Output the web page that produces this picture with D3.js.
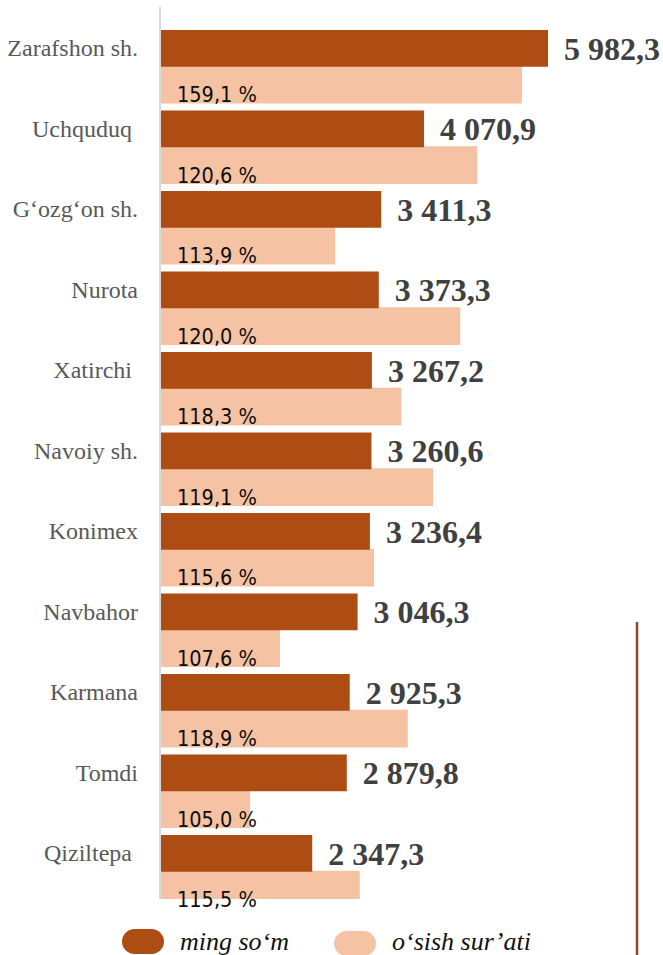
<!DOCTYPE html>
<html>
<head>
<meta charset="UTF-8">
<title>Tumanlar kesimida</title>
<script src="https://d3js.org/d3.v7.min.js"></script>
<style>
  body { margin: 0; background: #ffffff; }
  svg { display: block; }
</style>
</head>
<body>
<div id="chart"></div>
<script>
  // districts, top to bottom
  const categories = ["Zarafshon sh.", "Uchquduq ", "G‘ozg‘on sh.", "Nurota", "Xatirchi ", "Navoiy sh.",
                      "Konimex", "Navbahor", "Karmana", "Tomdi", "Qiziltepa "];
  // ming so'm
  const values = [5982.3, 4070.9, 3411.3, 3373.3, 3267.2, 3260.6, 3236.4, 3046.3, 2925.3, 2879.8, 2347.3];
  // o'sish sur'ati, label text (%)
  const growth = [159.1, 120.6, 113.9, 120.0, 118.3, 119.1, 115.6, 107.6, 118.9, 105.0, 115.5];
  // light bar lengths as plotted on the secondary axis
  const growthBar = [55.8, 48.9, 27.0, 46.3, 37.2, 42.1, 33.0, 18.5, 38.2, 13.9, 30.8];
  const seriesNames = ["ming so‘m", "o‘sish sur’ati"];

  const width = 663, height = 955;
  const dark = "#ad4d13", light = "#f5c3a3";
  const serif = '"Liberation Serif", "Times New Roman", serif';
  const sans = '"DejaVu Sans Condensed", "DejaVu Sans", sans-serif';

  const loc = d3.formatLocale({ decimal: ",", thousands: " ", grouping: [3], currency: ["", ""] });
  const fmtVal = loc.format(",.1f");
  const fmtPct = loc.format(".1f");

  const svg = d3.select("#chart").append("svg").attr("width", width).attr("height", height);

  const x = d3.scaleLinear().domain([0, 7000]).range([160, 614]);
  const xG = d3.scaleLinear().domain([0, 70]).range([160, 614]);
  const y = d3.scaleBand().domain(categories).range([26.5, 26.5 + 80.5 * categories.length]);
  const sub = d3.scaleBand().domain(["v", "g"]).range([3.5, 77]);

  svg.append("defs").append("clipPath").attr("id", "plot")
    .append("rect").attr("x", 0).attr("y", 7).attr("width", width).attr("height", 892);

  const plot = svg.append("g").attr("clip-path", "url(#plot)");

  const rows = categories.map((c, i) => ({ cat: c, v: values[i], g: growth[i], gb: growthBar[i] }));

  // light bars first, dark bars on top
  plot.selectAll(".gbar").data(rows).join("rect")
    .attr("x", x(0))
    .attr("y", d => y(d.cat) + sub("g") - 1)
    .attr("width", d => xG(d.gb) - xG(0))
    .attr("height", sub.bandwidth() + 1)
    .attr("fill", light);

  plot.selectAll(".vbar").data(rows).join("rect")
    .attr("x", x(0))
    .attr("y", d => y(d.cat) + sub("v"))
    .attr("width", d => x(d.v) - x(0))
    .attr("height", sub.bandwidth())
    .attr("fill", dark);

  // axis line
  svg.append("line")
    .attr("x1", x(0)).attr("x2", x(0))
    .attr("y1", 7).attr("y2", 899)
    .attr("stroke", "#d9d9d9").attr("stroke-width", 2);

  // category labels
  svg.selectAll(".cat").data(rows).join("text")
    .attr("class", "cat")
    .attr("x", 138)
    .attr("y", d => y(d.cat) + sub("v") + sub.bandwidth() / 2)
    .attr("dy", "0.33em")
    .attr("text-anchor", "end")
    .style("font-family", serif).style("font-size", "24px")
    .style("white-space", "pre").attr("fill", "#595959")
    .text(d => d.cat);

  // value labels
  svg.selectAll(".val").data(rows).join("text")
    .attr("class", "val")
    .attr("x", d => x(d.v) + 16)
    .attr("y", d => y(d.cat) + sub("v") + sub.bandwidth() / 2)
    .attr("dy", "0.35em")
    .style("font-family", serif).style("font-size", "32px").style("font-weight", "bold")
    .attr("fill", "#404040")
    .text(d => fmtVal(d.v));

  // growth labels
  svg.selectAll(".pct").data(rows).join("text")
    .attr("class", "pct")
    .attr("x", x(0) + 17)
    .attr("y", d => y(d.cat) + sub("g") + sub.bandwidth() - 1.5)
    .style("font-family", sans).style("font-size", "21.5px")
    .attr("fill", "#0d0d0d")
    .text(d => fmtPct(d.g) + " %");

  // legend
  const leg = svg.append("g");
  const legX = [122, 334];
  [dark, light].forEach((col, i) => {
    leg.append("rect")
      .attr("x", legX[i]).attr("y", 929 + i * 2)
      .attr("width", 42).attr("height", 25).attr("rx", 12.5)
      .attr("fill", col);
    leg.append("text")
      .attr("x", legX[i] + 58).attr("y", 950)
      .style("font-family", serif).style("font-size", "26px").style("font-style", "italic")
      .attr("fill", "#111")
      .text(seriesNames[i]);
  });

  // frame line on the right
  svg.append("line")
    .attr("x1", 637).attr("x2", 637)
    .attr("y1", 622).attr("y2", height)
    .attr("stroke", "#8b4726").attr("stroke-width", 2.5);
</script>
</body>
</html>
